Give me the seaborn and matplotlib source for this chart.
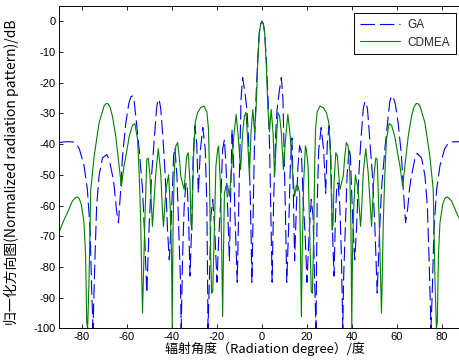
import matplotlib
matplotlib.use("Agg")
import matplotlib.pyplot as plt
import seaborn as sns

# ---------------- data ----------------
ga_angle = [-90, -87, -84, -82.5, -81.2, -79.1, -77.6, -76.4, -75.7, -75.1, -74.3, -73.5, -72.4,
            -70.9, -69.0, -67.9, -66.5, -65.7, -64.6, -63.8, -62.8, -62.0, -60.5, -59.2, -58.3,
            -57.5, -56.8, -56.1, -54.6, -53.1, -52.1, -51.2, -50.1, -49.0, -47.9, -46.9, -46.3,
            -45.7, -45.0, -44.2, -43.5, -42.7, -42.0, -41.2, -40.5, -39.8, -39.3, -38.7, -37.8,
            -37.1, -36.3, -35.9, -35.3, -34.6, -33.8, -33.2, -32.6, -32.0, -31.2, -30.6, -29.8,
            -29.0, -28.3, -27.4, -26.3, -25.2, -24.5, -24.0, -23.4, -22.7, -21.9, -21.0, -20.0,
            -19.2, -18.3, -17.5, -16.7, -16.0, -15.3, -14.5, -13.9, -13.3, -12.6, -12.0, -11.0,
            -10.2, -9.3, -8.6, -7.6, -6.7, -6.1, -5.6, -5.2, -4.8, -4.5, -3.8, -3.4, -2.7, -1.9,
            -1.2, -0.6, 0,
            0.6, 1.2, 1.9, 2.7, 3.4, 3.8, 4.5, 4.8, 5.2, 5.6, 6.1, 6.7, 7.6, 8.6, 9.3, 10.2,
            11.0, 12.0, 12.6, 13.3, 13.9, 14.5, 15.3, 16.0, 16.7, 17.5, 18.3, 19.2, 20.0, 21.0,
            21.9, 22.7, 23.4, 24.0, 24.5, 25.2, 26.3, 27.4, 28.3, 29.0, 29.8, 30.6, 31.2, 32.0,
            32.6, 33.2, 33.8, 34.6, 35.3, 35.9, 36.3, 37.1, 37.8, 38.7, 39.3, 39.8, 40.5, 41.2,
            42.0, 42.7, 43.5, 44.2, 45.0, 45.7, 46.3, 46.9, 47.9, 49.0, 50.1, 51.2, 52.1, 53.1,
            54.6, 56.1, 56.8, 57.5, 58.3, 59.2, 60.5, 62.0, 62.8, 63.8, 64.6, 65.7, 66.5, 67.9,
            69.0, 70.9, 72.4, 73.5, 74.3, 75.1, 75.7, 76.4, 77.6, 79.1, 81.2, 82.5, 84, 87, 90]
ga_db = [-39.5, -39.2, -39.3, -40, -41.5, -47, -54.8, -68, -87.5, -100, -78.7, -60.3, -50.2,
         -44.5, -43.4, -45, -50, -53.7, -62, -65.6, -54.8, -43.9, -33, -26.8, -24.6,
         -24.3, -26.2, -30.8, -41.7, -54.8, -71, -88.5, -65.6, -49.4, -38.5, -28.7, -25.6,
         -25.4, -28.5, -36.3, -43.9, -54.8, -67.9, -77.7, -67.9, -54.8, -43.9, -41.2, -50.5,
         -65.6, -83, -100, -76.6, -60.3, -52.6, -54, -65, -83, -65.6, -43.9, -34,
         -40, -56, -42, -34.6, -42, -60, -100, -85, -63.5, -58, -68, -85,
         -70, -58, -41.7, -38.5, -47.2, -60, -78, -55, -35.2, -47.2, -63.5, -85,
         -55, -25, -18.3, -23.2, -28.7, -36.3, -47.2, -58, -72, -85, -58, -41.7, -25.4, -12.3,
         -3.5, -0.8, 0,
         -0.8, -3.5, -12.3, -25.4, -41.7, -58, -85, -72, -58, -47.2, -36.3, -28.7, -23.2, -18.3, -25, -55,
         -85, -63.5, -47.2, -38, -55, -78, -60, -47.2, -40.5, -42.5, -58, -70, -85, -68,
         -58, -63.5, -85, -100, -60, -42, -34.6, -42, -56, -40, -34, -43.9, -65.6, -83,
         -65, -54, -52.6, -60.3, -76.6, -100, -83, -65.6, -50.5, -41.2, -43.9, -54.8, -67.9, -77.7,
         -67.9, -54.8, -43.9, -36.3, -28.5, -26.2, -26.5, -28.7, -38.5, -49.4, -65.6, -88.5, -71, -54.8,
         -41.7, -30.8, -26.2, -24.3, -24.6, -26.8, -33, -43.9, -54.8, -65.6, -62, -53.7, -50, -45,
         -43.0, -44.5, -50.2, -60.3, -78.7, -100, -87.5, -68, -54.8, -47, -41.5, -40, -39.3, -39.2, -39.5]

cdmea_angle = [-90, -88.2, -86.5, -84.3, -83.0, -82.1, -81.2, -80.3, -79.1, -78.4, -77.9, -77.5,
               -76.9, -76.1, -74.6, -72.4, -70.2, -69.3, -68.5, -67.5, -66.5, -65.0, -63.5, -62.5,
               -61.3, -60.5, -59.0, -57.6, -56.5, -55.3, -54.6, -53.9, -53.4, -53.1, -52.6, -52.1,
               -51.2, -50.6, -49.8, -48.7, -47.2, -46.1, -45.0, -44.2, -43.8, -42.7, -41.5, -40.8,
               -40.2, -39.9, -39.5, -39.0, -38.3, -37.5, -36.8, -36.1, -34.6, -33.5, -32.8, -32.0,
               -31.6, -31.2, -30.4, -29.7, -28.6, -27.2, -25.8, -24.5, -23.8, -23.4, -23.0, -22.4,
               -21.9, -21.2, -20.5, -19.7, -19.3, -18.5, -17.9, -17.5, -17.1, -16.7, -16.0, -15.3,
               -14.5, -13.5, -12.6, -11.5, -10.5, -9.5, -8.6, -7.8, -7.1, -6.4, -5.6, -4.9, -4.1,
               -3.3, -2.6, -1.9, -1.2, -0.6, 0,
               0.6, 1.2, 1.9, 2.6, 3.3, 4.1, 4.9, 5.6, 6.4, 7.1, 7.8, 8.6, 9.5, 10.5, 11.5, 12.6,
               13.5, 14.5, 15.3, 16.0, 16.7, 17.1, 17.5, 17.9, 18.5, 19.3, 19.7, 20.5, 21.2, 21.9,
               22.4, 23.0, 23.4, 23.8, 24.5, 25.8, 27.2, 28.6, 29.7, 30.4, 31.2, 31.6, 32.0, 32.8,
               33.5, 34.6, 36.1, 36.8, 37.5, 38.3, 39.0, 39.5, 39.9, 40.2, 40.8, 41.5, 42.7, 43.8,
               44.2, 45.0, 46.1, 47.2, 48.7, 49.8, 50.6, 51.2, 52.1, 52.6, 53.1, 53.4, 53.9, 54.6,
               55.3, 56.5, 57.6, 59.0, 60.5, 61.3, 62.5, 63.5, 65.0, 66.5, 67.5, 68.5, 69.3, 70.2,
               72.4, 74.6, 76.1, 76.9, 77.5, 77.9, 78.4, 79.1, 80.3, 81.2, 82.1, 83.0, 84.3, 86.5,
               88.2, 90]
cdmea_db = [-68.4, -65, -62.4, -58.6, -57.5, -57.2, -57.8, -59.7, -65.6, -76.6, -98, -100,
            -85, -54.8, -43.9, -33, -27.6, -26.8, -26.8, -28, -30.8, -37.4, -47.2, -53.7,
            -47, -43.9, -37.4, -33.9, -33.3, -38.5, -49.4, -65.6, -85.3, -95, -80, -65.6,
            -45, -44.5, -50, -66.8, -49.4, -41.5, -49.4, -62.4, -66.8, -54.8, -50, -60.3,
            -76.6, -100, -65.6, -49.4, -40.6, -39.5, -43.9, -50.5, -54.8, -43.9, -42.8, -52.7,
            -65.6, -68, -43.9, -33, -29.7, -28.1, -27.6, -29.5, -35, -47.2, -69, -88.6,
            -88, -69, -47.2, -41.7, -40.6, -52.6, -74.4, -96.2, -74.4, -55.9, -53.7, -53.4,
            -57, -48, -38, -30.3, -38, -48.3, -36.3, -30.8, -29.7, -38.5, -50.5, -36.3, -28.7,
            -36, -28, -14, -4, -1, 0,
            -1, -4, -14, -28, -36, -28.7, -36.3, -50.5, -38.5, -29.7, -30.8, -36.3, -48.3, -38, -30.3, -38,
            -48, -57, -53.4, -53.7, -55.9, -74.4, -96.2, -74.4, -52.6, -40.6, -41.7, -47.2, -69, -88,
            -88.6, -69, -47.2, -35, -29.5, -27.6, -28.1, -29.7, -33, -43.9, -68, -65.6, -52.7, -42.8,
            -43.9, -54.8, -50.5, -43.9, -39.5, -40.6, -49.4, -65.6, -100, -76.6, -60.3, -50, -54.8, -66.8,
            -62.4, -49.4, -41.5, -49.4, -66.8, -50, -44.5, -45, -65.6, -80, -95, -85.3, -65.6, -49.4,
            -38.5, -33.3, -33.9, -37.4, -43.9, -47, -53.7, -47.2, -37.4, -30.8, -28, -26.8, -26.8, -27.6,
            -33, -43.9, -54.8, -85, -100, -98, -76.6, -65.6, -59.7, -57.8, -57.2, -57.5, -58.6, -62.4,
            -65, -68.4]

series_names = ["GA", "CDMEA"]
x_ticks = [-80, -60, -40, -20, 0, 20, 40, 60, 80]
y_ticks = [0, -10, -20, -30, -40, -50, -60, -70, -80, -90, -100]
x_label = "辐射角度（Radiation degree）/度"
y_label = "归一化方向图(Normalized radiation pattern)/dB"

# ---------------- style ----------------
sns.set_theme(style="ticks")
plt.rcParams["font.family"] = ["Liberation Sans", "Noto Sans CJK SC", "DejaVu Sans"]
plt.rcParams["axes.unicode_minus"] = False
plt.rcParams["xtick.direction"] = "in"
plt.rcParams["ytick.direction"] = "in"

W, H = 460, 364
fig = plt.figure(figsize=(W / 100, H / 100), dpi=100)
fig.patch.set_facecolor("white")
left_px, right_px, top_px, bottom_px = 59.5, 464.5, 6.0, 328.3
ax = fig.add_axes([left_px / W, (H - bottom_px) / H,
                   (right_px - left_px) / W, (bottom_px - top_px) / H])
ax.set_facecolor("white")

sns.lineplot(x=ga_angle, y=ga_db, ax=ax, color="#0000FF", lw=0.8,
             linestyle=(0, (13, 4.5)), label=series_names[0],
             estimator=None, sort=False)
sns.lineplot(x=cdmea_angle, y=cdmea_db, ax=ax, color="#008000", lw=0.8,
             label=series_names[1], estimator=None, sort=False)

ax.set_xlim(-90, 90)
ax.set_ylim(-100, 5)
ax.set_xticks(x_ticks)
ax.set_yticks(y_ticks)
ax.tick_params(top=True, right=True, length=3, width=0.6, labelsize=8,
               colors="black", pad=3)
for s in ax.spines.values():
    s.set_color("black")
    s.set_linewidth(0.7)

cjk = ["Noto Sans CJK SC", "DejaVu Sans"]
ax.set_xlabel(x_label, fontsize=9.4, family=cjk, color="black")
ax.set_ylabel(y_label, fontsize=10, family=cjk, color="black")
ax.xaxis.set_label_coords(0.508, -0.043)
ax.yaxis.set_label_coords(-0.1, 0.485)

leg = ax.legend(loc="upper right", bbox_to_anchor=(456 / W, 1 - 13.3 / H),
                bbox_transform=fig.transFigure, borderaxespad=0,
                fancybox=False, framealpha=1, edgecolor="black",
                fontsize=8.5, handlelength=3.4, handletextpad=0.6,
                borderpad=0.5, labelspacing=0.45)
leg.get_frame().set_linewidth(0.7)

fig.savefig("out.png", dpi=100, facecolor="white")
